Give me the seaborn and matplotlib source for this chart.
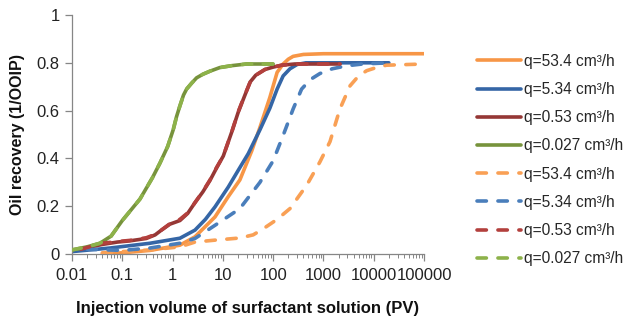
import numpy as np
import pandas as pd
import seaborn as sns
import matplotlib.pyplot as plt
from matplotlib.ticker import LogLocator, NullFormatter

sns.set_theme(style="white")
plt.rcParams['font.family'] = ['Liberation Sans', 'DejaVu Sans']

# Solid curves (q = 53.4, 5.34, 0.53, 0.027 cm3/h)
x_o_s = [0.04, 0.1, 0.356, 1.4, 2.79, 6.97, 12.8, 21.8, 37.3, 54.7, 86, 120, 158, 200, 250, 400, 1000, 100000]
y_o_s = [0.0, 0.005, 0.015, 0.037, 0.072, 0.155, 0.24, 0.31, 0.43, 0.53, 0.655, 0.76, 0.795, 0.815, 0.827, 0.835, 0.838, 0.838]

x_b_s = [0.01, 0.057, 0.356, 1.4, 2.79, 4.5, 6.97, 12.8, 20.2, 32, 54.7, 86, 120, 158, 216, 300, 450, 20000]
y_b_s = [0.01, 0.025, 0.045, 0.066, 0.1, 0.145, 0.197, 0.28, 0.35, 0.42, 0.52, 0.61, 0.69, 0.745, 0.775, 0.793, 0.80, 0.80]

x_r_s = [0.018, 0.04, 0.08, 0.142, 0.3, 0.45, 0.6, 0.887, 1.4, 2.0, 2.79, 4.0, 5.55, 7.5, 10.2, 15, 20.2, 27.5, 35, 45, 68.7, 100, 148, 270, 2130]
y_r_s = [0.025, 0.04, 0.05, 0.055, 0.065, 0.08, 0.1, 0.125, 0.14, 0.17, 0.215, 0.26, 0.308, 0.36, 0.41, 0.51, 0.593, 0.665, 0.72, 0.748, 0.772, 0.782, 0.79, 0.795, 0.795]

x_g_s = [0.01, 0.02, 0.036, 0.06, 0.1, 0.225, 0.4, 0.56, 0.8, 1.03, 1.2, 1.4, 1.65, 1.9, 2.4, 3.0, 4.0, 5.55, 8.7, 15, 29.5, 100]
y_g_s = [0.017, 0.03, 0.045, 0.075, 0.14, 0.23, 0.32, 0.38, 0.45, 0.52, 0.575, 0.62, 0.665, 0.69, 0.715, 0.737, 0.752, 0.765, 0.78, 0.788, 0.795, 0.795]

# Dashed curves
x_o_d = [0.04, 0.356, 1.4, 2.79, 6.97, 21.8, 40, 63, 120, 216, 464, 850, 1350, 2130, 3390, 5000, 7250, 12000, 18000, 100000]
y_o_d = [0.005, 0.017, 0.03, 0.05, 0.058, 0.067, 0.08, 0.105, 0.145, 0.19, 0.2875, 0.385, 0.47, 0.607, 0.704, 0.745, 0.767, 0.782, 0.79, 0.795]

x_b_d = [0.02, 0.1, 0.356, 1.4, 2.79, 6.97, 21.8, 54.7, 100, 158, 250, 368, 550, 850, 1500, 2900, 6000, 20000]
y_b_d = [0.02, 0.015, 0.025, 0.045, 0.065, 0.12, 0.19, 0.30, 0.39, 0.496, 0.607, 0.69, 0.73, 0.755, 0.775, 0.7875, 0.795, 0.80]

x_r_d = [0.015, 0.04, 0.08, 0.142, 0.3, 0.45, 0.6, 0.887, 1.4, 2.0, 2.79, 4.0, 5.55, 7.5, 10.2, 15, 20.2, 27.5, 35, 45, 68.7, 100, 148, 270, 2130]
y_r_d = [0.02, 0.045, 0.052, 0.057, 0.068, 0.082, 0.1, 0.127, 0.145, 0.172, 0.215, 0.262, 0.31, 0.362, 0.41, 0.51, 0.595, 0.667, 0.72, 0.748, 0.772, 0.782, 0.79, 0.795, 0.795]

x_g_d = [0.01, 0.02, 0.036, 0.06, 0.1, 0.225, 0.4, 0.56, 0.8, 1.03, 1.2, 1.4, 1.65, 1.9, 2.4, 3.0, 4.0, 5.55, 8.7, 15, 29.5, 100]
y_g_d = [0.017, 0.03, 0.045, 0.075, 0.14, 0.23, 0.32, 0.38, 0.45, 0.52, 0.575, 0.62, 0.665, 0.69, 0.715, 0.737, 0.752, 0.765, 0.78, 0.788, 0.795, 0.795]

labels = ["q=53.4 cm³/h", "q=5.34 cm³/h", "q=0.53 cm³/h", "q=0.027 cm³/h"]
solid_colors = ["#F79646", "#3566A6", "#953735", "#77933C"]
dash_colors = ["#F9A055", "#4A7EBB", "#B3403D", "#8DB24A"]

fig = plt.figure(figsize=(6.3, 3.21), dpi=100)
ax = fig.add_axes([72/630, 1-254/321, (424-72)/630, (254-15)/321])

solid = [(x_o_s, y_o_s), (x_b_s, y_b_s), (x_r_s, y_r_s), (x_g_s, y_g_s)]
dashed = [(x_o_d, y_o_d), (x_b_d, y_b_d), (x_r_d, y_r_d), (x_g_d, y_g_d)]

LW = 2.6
for (xs, ys), lab, c in zip(solid, labels, solid_colors):
    df = pd.DataFrame({"x": xs, "y": ys})
    sns.lineplot(data=df, x="x", y="y", ax=ax, color=c, lw=LW, label=lab,
                 solid_capstyle="round", solid_joinstyle="round", zorder=2)
for (xs, ys), lab, c in zip(dashed, labels, dash_colors):
    df = pd.DataFrame({"x": xs, "y": ys})
    sns.lineplot(data=df, x="x", y="y", ax=ax, color=c, lw=LW, label=lab,
                 linestyle=(0, (2.6, 3.2)), dash_capstyle="round",
                 dash_joinstyle="round", zorder=3)

ax.set_xscale("log")
ax.set_xlim(0.01, 100000)
ax.set_ylim(0, 1)
ax.set_xticks([0.01, 0.1, 1, 10, 100, 1000, 10000, 100000])
ax.set_xticklabels(["0.01", "0.1", "1", "10", "100", "1000", "10000", "100000"])
ax.xaxis.set_minor_locator(LogLocator(base=10, subs=np.arange(2, 10), numticks=20))
ax.xaxis.set_minor_formatter(NullFormatter())
ax.set_yticks([0, 0.2, 0.4, 0.6, 0.8, 1])
ax.set_yticklabels(["0", "0.2", "0.4", "0.6", "0.8", "1"])

for s in ["top", "right"]:
    ax.spines[s].set_visible(False)
for s in ["left", "bottom"]:
    ax.spines[s].set_color("#868686")
    ax.spines[s].set_linewidth(0.9)
ax.tick_params(axis="x", which="major", direction="out", length=5, width=0.9,
               color="#868686", labelsize=12, pad=5, bottom=True, labelcolor="#222222")
ax.tick_params(axis="x", which="minor", direction="out", length=3, width=0.7,
               color="#868686", bottom=True)
ax.tick_params(axis="y", which="major", direction="out", length=5, width=0.9,
               color="#868686", labelsize=12, pad=4, left=True, labelcolor="#222222")
ax.set_xlabel("Injection volume of surfactant solution (PV)", fontsize=12,
              fontweight="bold", labelpad=13, color="#111111")
ax.set_ylabel("Oil recovery (1/OOIP)", fontsize=11.5, fontweight="bold",
              labelpad=8, color="#111111")
ax.grid(False)

handles, labs = ax.get_legend_handles_labels()
ax.get_legend().remove()
fig.legend(handles, labs, loc="center left", bbox_to_anchor=(477/630, 1-160/321),
           frameon=False, fontsize=11.2, handlelength=2.85, handletextpad=0.2,
           labelspacing=0.85, borderaxespad=0, borderpad=0)

fig.savefig("out.png", dpi=100)
